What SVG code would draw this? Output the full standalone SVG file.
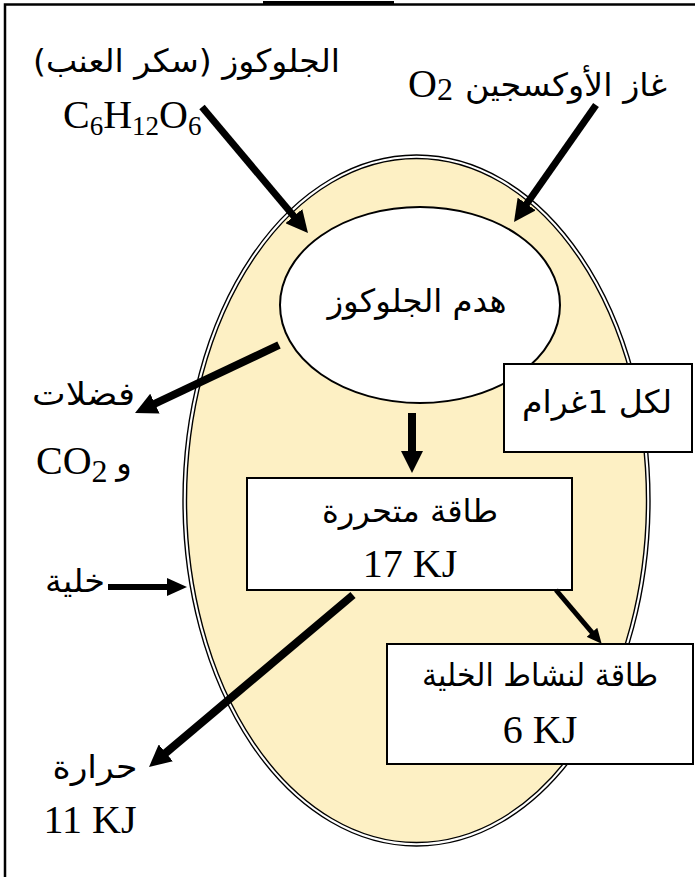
<svg xmlns="http://www.w3.org/2000/svg" width="695" height="877" viewBox="0 0 695 877">
<style>
.ar{font-family:"DejaVu Sans","Noto Sans",sans-serif;font-size:32px;fill:#000;direction:rtl;}
.lt{font-family:"Liberation Serif","Times New Roman",serif;font-size:40px;fill:#000;}
.box{fill:#fff;stroke:#000;stroke-width:2;}
.arr{stroke:#000;fill:none;stroke-linecap:butt;}
</style>
<defs>
<marker id="head" viewBox="0 0 22 22" refX="2" refY="11" markerWidth="22" markerHeight="22" markerUnits="userSpaceOnUse" orient="auto"><path d="M0,0 L22,11 L0,22 z" fill="#000"/></marker>
<marker id="headM" viewBox="0 0 20 18" refX="1" refY="9" markerWidth="20" markerHeight="18" markerUnits="userSpaceOnUse" orient="auto"><path d="M0,0 L20,9 L0,18 z" fill="#000"/></marker>
<marker id="headS" viewBox="0 0 15 14" refX="1" refY="7" markerWidth="15" markerHeight="14" markerUnits="userSpaceOnUse" orient="auto"><path d="M0,0 L15,7 L0,14 z" fill="#000"/></marker>
</defs>
<rect width="695" height="877" fill="#fff"/>
<path d="M5,877 V4.5 H695" fill="none" stroke="#000" stroke-width="2.5"/>
<line x1="263" y1="2.5" x2="394" y2="2.5" stroke="#000" stroke-width="3"/>

<g id="cell">
<ellipse cx="416.5" cy="500.5" rx="233.5" ry="345.5" fill="#fff" stroke="#000" stroke-width="1.4"/>
<ellipse cx="416.5" cy="500.5" rx="230" ry="342" fill="#FDF0C4" stroke="#000" stroke-width="1.4"/>
</g>
<g id="breakdown">
<ellipse cx="420" cy="305" rx="140" ry="98" fill="#fff" stroke="#000" stroke-width="2"/>
<text class="ar" x="417" y="312" text-anchor="middle" textLength="179" lengthAdjust="spacingAndGlyphs">هدم الجلوكوز</text>
</g>
<g id="pergram">
<rect class="box" x="504" y="364" width="188" height="88"/>
<text class="ar" x="597" y="413" text-anchor="middle" textLength="150" lengthAdjust="spacingAndGlyphs">لكل 1غرام</text>
</g>
<g id="released">
<rect class="box" x="247" y="478" width="325" height="112"/>
<text class="ar" x="410" y="522" text-anchor="middle" textLength="176" lengthAdjust="spacingAndGlyphs">طاقة متحررة</text>
<text class="lt" x="410" y="577" text-anchor="middle">17 KJ</text>
</g>
<g id="activity">
<rect class="box" x="387" y="644" width="306" height="120"/>
<text class="ar" x="540" y="686" text-anchor="middle" textLength="236" lengthAdjust="spacingAndGlyphs">طاقة لنشاط الخلية</text>
<text class="lt" x="540" y="743" text-anchor="middle">6 KJ</text>
</g>
<g id="glucose">
<text class="ar" x="186.5" y="72" text-anchor="middle" textLength="307" lengthAdjust="spacingAndGlyphs">الجلوكوز (سكر العنب)</text>
<text class="lt" x="63" y="128" font-size="42">C<tspan font-size="27" dy="7">6</tspan><tspan dy="-7">H</tspan><tspan font-size="27" dy="7">12</tspan><tspan dy="-7">O</tspan><tspan font-size="27" dy="7">6</tspan></text>
</g>
<g id="oxygen">
<text class="ar" x="566" y="96" text-anchor="middle" textLength="202" lengthAdjust="spacingAndGlyphs">غاز الأوكسجين</text>
<text class="lt" x="408" y="97">O<tspan font-size="32" dy="3">2</tspan></text>
</g>
<g id="waste">
<text class="ar" x="83.5" y="405" text-anchor="middle" textLength="103" lengthAdjust="spacingAndGlyphs">فضلات</text>
<text class="lt" x="36" y="474" font-size="34">CO<tspan dy="8" font-size="32">2</tspan></text>
<text class="ar" x="124" y="474" text-anchor="middle">و</text>
</g>
<g id="cell-label">
<text class="ar" x="75" y="592" text-anchor="middle" textLength="60" lengthAdjust="spacingAndGlyphs">خلية</text>
</g>
<g id="heat">
<text class="ar" x="95" y="778" text-anchor="middle" textLength="85" lengthAdjust="spacingAndGlyphs">حرارة</text>
<text class="lt" x="90" y="833" text-anchor="middle">11 KJ</text>
</g>
<g id="connectors">
<line class="arr" x1="202" y1="107" x2="295.1" y2="217.7" stroke-width="7" marker-end="url(#head)"/>
<line class="arr" x1="596" y1="105" x2="525.5" y2="205.6" stroke-width="7" marker-end="url(#head)"/>
<line class="arr" x1="279" y1="345" x2="153.1" y2="404.5" stroke-width="8" marker-end="url(#head)"/>
<line class="arr" x1="412" y1="413" x2="412" y2="453" stroke-width="8" marker-end="url(#head)"/>
<line class="arr" x1="108" y1="587" x2="168" y2="587" stroke-width="6" marker-end="url(#headM)"/>
<line class="arr" x1="556" y1="590" x2="592.6" y2="633.1" stroke-width="5" marker-end="url(#headS)"/>
<line class="arr" x1="353" y1="595" x2="164.3" y2="754.1" stroke-width="8" marker-end="url(#head)"/>
</g>
</svg>
